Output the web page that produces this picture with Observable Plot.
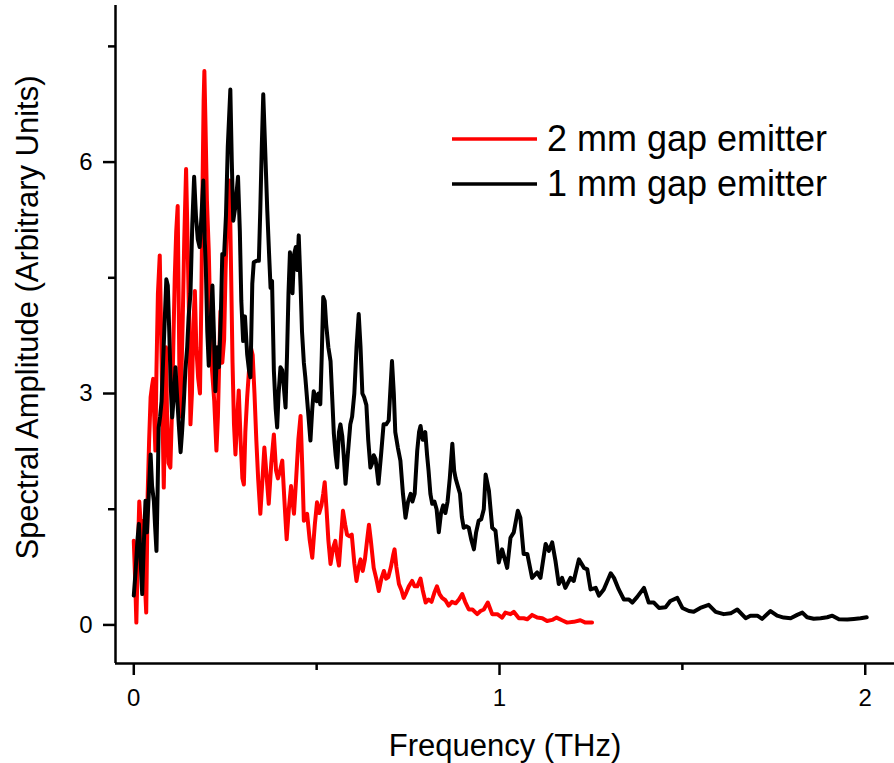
<!DOCTYPE html>
<html>
<head>
<meta charset="utf-8">
<script src="https://cdn.jsdelivr.net/npm/d3@7"></script>
<script src="https://cdn.jsdelivr.net/npm/@observablehq/plot@0.6"></script>
<style>
  html, body { margin: 0; padding: 0; background: #fff; }
  #wrap { position: relative; width: 894px; height: 763px; }
  #wrap svg text { font-family: "Liberation Sans", Arial, sans-serif; }
  g[aria-label="x-axis tick label"], g[aria-label="y-axis tick label"] { font-size: 24px; }
  g[aria-label="x-axis label"] { font-size: 31px; }
  g[aria-label="y-axis label"] { font-size: 31px; translate: 0 -17px; }
  #legend { position: absolute; left: 0; top: 0; pointer-events: none; }
</style>
</head>
<body>
<div id="wrap"></div>
<script>
// ---------- data ----------
const seriesNames = ["2 mm gap emitter", "1 mm gap emitter"];
const seriesColors = ["#ff0000", "#000000"];

const redFreq = [0.000,0.004,0.007,0.011,0.015,0.019,0.023,0.028,0.034,0.038,0.042,0.046,0.050,0.053,0.056,0.059,0.062,0.066,0.071,0.074,0.078,0.082,0.085,0.088,0.091,0.095,0.100,0.104,0.108,0.112,0.116,0.120,0.123,0.126,0.130,0.134,0.138,0.143,0.147,0.151,0.155,0.159,0.163,0.167,0.171,0.176,0.181,0.185,0.188,0.191,0.193,0.196,0.200,0.205,0.209,0.214,0.220,0.226,0.230,0.234,0.237,0.242,0.247,0.251,0.256,0.262,0.266,0.270,0.274,0.278,0.283,0.287,0.292,0.297,0.301,0.305,0.310,0.315,0.320,0.325,0.330,0.335,0.340,0.346,0.352,0.357,0.362,0.369,0.376,0.383,0.389,0.394,0.400,0.406,0.412,0.418,0.424,0.430,0.434,0.438,0.444,0.450,0.456,0.461,0.465,0.470,0.474,0.481,0.488,0.495,0.501,0.507,0.513,0.518,0.522,0.527,0.532,0.538,0.545,0.551,0.556,0.561,0.566,0.572,0.578,0.583,0.590,0.596,0.603,0.609,0.615,0.620,0.626,0.632,0.638,0.643,0.648,0.656,0.663,0.670,0.677,0.684,0.690,0.696,0.703,0.709,0.713,0.718,0.725,0.732,0.738,0.745,0.752,0.761,0.768,0.775,0.784,0.790,0.798,0.806,0.814,0.822,0.829,0.836,0.843,0.852,0.861,0.870,0.880,0.889,0.898,0.906,0.916,0.926,0.939,0.948,0.957,0.968,0.980,0.994,1.007,1.016,1.030,1.039,1.053,1.066,1.076,1.089,1.103,1.117,1.130,1.144,1.156,1.171,1.185,1.203,1.221,1.235,1.253];
const redAmp = [1.09,0.55,0.03,0.9,1.6,1.3,1.35,0.8,0.16,1.7,2.4,2.95,3.1,3.19,2.7,2.26,3.3,4.3,4.79,4.0,2.9,1.78,2.6,3.6,2.7,2.1,2.04,2.7,3.6,4.5,5.1,5.43,4.1,2.7,3.2,4.0,5.0,5.91,5.0,4.0,2.6,3.0,3.9,4.33,3.6,3.2,3.0,4.3,5.7,6.8,7.18,6.5,5.5,4.85,4.0,3.3,2.9,2.26,2.7,3.5,4.07,3.4,3.7,4.6,5.4,5.76,4.6,3.4,2.6,2.21,2.7,3.04,2.4,1.9,1.82,2.5,2.95,3.3,3.6,3.5,3.0,2.4,1.9,1.44,1.9,2.3,2.0,1.57,2.1,2.47,2.0,1.9,2.0,2.13,1.6,1.11,1.5,1.8,1.6,1.44,1.9,2.4,2.71,2.0,1.35,1.4,1.44,1.1,0.87,1.3,1.59,1.45,1.55,1.7,1.85,1.5,1.1,0.79,1.0,1.09,0.9,0.77,1.1,1.48,1.3,1.17,1.15,1.17,0.8,0.57,0.75,0.85,0.7,0.85,1.1,1.3,1.1,0.74,0.6,0.44,0.6,0.7,0.6,0.62,0.75,0.9,0.98,0.75,0.53,0.45,0.35,0.42,0.5,0.57,0.5,0.5,0.6,0.45,0.29,0.33,0.3,0.42,0.5,0.4,0.35,0.32,0.25,0.3,0.28,0.33,0.4,0.3,0.2,0.2,0.14,0.18,0.2,0.29,0.14,0.14,0.095,0.16,0.14,0.17,0.087,0.087,0.074,0.13,0.095,0.087,0.05,0.065,0.095,0.06,0.03,0.04,0.06,0.03,0.03];

const blackFreq = [0.000,0.005,0.010,0.014,0.018,0.023,0.027,0.032,0.036,0.040,0.046,0.050,0.055,0.058,0.062,0.065,0.068,0.072,0.076,0.080,0.085,0.089,0.093,0.097,0.101,0.105,0.110,0.114,0.118,0.123,0.128,0.132,0.137,0.141,0.146,0.150,0.155,0.160,0.165,0.170,0.175,0.180,0.185,0.190,0.194,0.197,0.201,0.205,0.210,0.215,0.219,0.223,0.228,0.233,0.238,0.242,0.247,0.252,0.257,0.264,0.268,0.272,0.277,0.281,0.285,0.290,0.294,0.299,0.304,0.310,0.315,0.319,0.324,0.328,0.336,0.342,0.346,0.350,0.354,0.359,0.365,0.370,0.374,0.378,0.383,0.388,0.392,0.396,0.401,0.406,0.410,0.415,0.419,0.423,0.427,0.431,0.434,0.438,0.443,0.447,0.451,0.456,0.460,0.465,0.469,0.476,0.483,0.488,0.492,0.500,0.505,0.510,0.514,0.518,0.522,0.526,0.532,0.538,0.543,0.547,0.552,0.556,0.561,0.565,0.570,0.574,0.579,0.585,0.592,0.597,0.603,0.609,0.615,0.620,0.625,0.630,0.636,0.641,0.647,0.652,0.656,0.661,0.665,0.669,0.676,0.683,0.690,0.697,0.701,0.706,0.711,0.715,0.722,0.729,0.736,0.743,0.750,0.757,0.762,0.768,0.775,0.780,0.784,0.790,0.797,0.802,0.806,0.811,0.816,0.822,0.828,0.834,0.840,0.846,0.852,0.858,0.864,0.871,0.876,0.880,0.886,0.892,0.897,0.902,0.909,0.916,0.923,0.930,0.936,0.943,0.950,0.957,0.962,0.971,0.980,0.989,0.998,1.007,1.021,1.030,1.039,1.050,1.057,1.066,1.076,1.089,1.103,1.112,1.126,1.135,1.144,1.153,1.162,1.171,1.180,1.194,1.203,1.217,1.231,1.240,1.249,1.263,1.272,1.285,1.304,1.313,1.326,1.340,1.354,1.363,1.376,1.395,1.408,1.422,1.436,1.454,1.467,1.486,1.500,1.518,1.531,1.549,1.572,1.591,1.613,1.632,1.650,1.673,1.686,1.705,1.718,1.741,1.759,1.777,1.796,1.814,1.828,1.841,1.859,1.878,1.896,1.910,1.928,1.951,1.969,1.987,2.004];
const blackAmp = [0.38,0.7,1.1,1.31,0.9,0.4,1.0,1.61,1.2,1.6,2.21,1.8,1.6,1.3,0.96,1.7,2.56,2.7,2.9,3.4,4.0,4.48,4.4,3.8,3.1,2.69,3.0,3.34,3.0,2.6,2.24,2.5,2.91,3.3,3.6,4.0,4.3,5.2,5.81,5.3,5.0,4.9,5.3,5.76,5.0,4.63,3.8,3.36,3.9,4.4,3.8,3.03,3.6,3.34,4.0,4.81,4.8,5.3,6.2,6.94,6.0,5.24,5.4,5.6,5.81,5.1,4.2,3.68,4.0,3.51,3.3,3.21,4.42,4.7,4.72,4.72,5.4,6.2,6.88,6.2,5.37,4.8,4.37,4.46,3.3,2.8,2.56,3.0,3.34,3.3,3.1,2.82,3.5,4.3,4.83,4.5,4.3,4.8,4.9,4.6,5.05,4.4,3.8,3.4,3.21,2.8,2.39,2.8,3.03,2.9,3.0,2.86,3.5,4.25,4.2,3.9,3.6,3.42,2.9,2.48,2.2,2.04,2.5,2.6,2.45,2.2,1.83,2.2,2.6,2.7,3.0,3.6,4.03,3.6,3.0,2.95,2.85,2.4,2.04,2.1,2.2,2.15,2.0,1.83,2.2,2.6,2.6,2.65,3.0,3.42,3.0,2.5,2.3,2.13,1.7,1.39,1.6,1.7,1.6,1.7,2.26,2.5,2.58,2.4,2.5,2.2,2.0,1.7,1.57,1.6,1.5,1.2,1.45,1.55,1.45,1.6,1.9,2.35,2.0,1.9,1.8,1.7,1.4,1.26,1.28,1.26,1.1,0.98,1.2,1.35,1.37,1.5,1.95,1.74,1.26,1.22,0.81,0.98,0.74,1.13,1.2,1.48,1.39,0.92,0.92,0.61,0.68,0.61,1.05,0.96,1.07,0.83,0.53,0.61,0.48,0.61,0.57,0.85,0.74,0.72,0.46,0.48,0.38,0.46,0.67,0.61,0.46,0.33,0.33,0.29,0.36,0.48,0.29,0.29,0.22,0.23,0.31,0.35,0.22,0.18,0.17,0.22,0.26,0.17,0.14,0.15,0.2,0.087,0.12,0.12,0.078,0.18,0.12,0.095,0.087,0.13,0.16,0.1,0.08,0.087,0.1,0.12,0.074,0.07,0.078,0.087,0.1];

const xDomain = [-0.05, 2.08];
const yDomain = [-0.5, 8.03];
const xTicks = [0, 1, 2];
const xMinorTicks = [0.5, 1.5];
const yTicks = [0, 3, 6];
const yMinorTicks = [1.5, 4.5, 7.5];

const red = redFreq.map((f, i) => ({freq: f, amp: redAmp[i], series: seriesNames[0]}));
const black = blackFreq.map((f, i) => ({freq: f, amp: blackAmp[i], series: seriesNames[1]}));

const fmt = d3.format("d");

const chart = Plot.plot({
  width: 894,
  height: 763,
  marginTop: 5,
  marginBottom: 100,
  marginLeft: 115,
  marginRight: 0,
  x: {domain: xDomain},
  y: {domain: yDomain},
  style: {fontFamily: '"Liberation Sans", Arial, sans-serif', fontSize: "24px", color: "#000", background: "#fff", overflow: "visible"},
  marks: [
    Plot.ruleX([xDomain[0]], {stroke: "#000", strokeWidth: 2.5}),
    Plot.ruleY([yDomain[0]], {stroke: "#000", strokeWidth: 2.5}),
    Plot.axisX(xTicks, {tickSize: 12, tickPadding: 13, strokeWidth: 2.5, fontSize: 24, tickFormat: fmt, label: "Frequency (THz)", labelAnchor: "center", labelOffset: 92, labelArrow: "none"}),
    Plot.axisX(xMinorTicks, {tickSize: 7, strokeWidth: 2.5, tickFormat: () => "", label: null}),
    Plot.axisY(yTicks, {tickSize: 12, tickPadding: 11, strokeWidth: 2.5, fontSize: 24, tickFormat: fmt, label: "Spectral Amplitude (Arbitrary Units)", labelAnchor: "center", labelOffset: 100, labelArrow: "none"}),
    Plot.axisY(yMinorTicks, {tickSize: 7, strokeWidth: 2.5, tickFormat: () => "", label: null}),
    Plot.line(red, {x: "freq", y: "amp", stroke: seriesColors[0], strokeWidth: 4, strokeLinejoin: "round"}),
    Plot.line(black, {x: "freq", y: "amp", stroke: seriesColors[1], strokeWidth: 4, strokeLinejoin: "round"})
  ]
});

const wrap = document.getElementById("wrap");
wrap.appendChild(chart);

// legend overlay
const leg = d3.select(wrap).append("svg")
  .attr("id", "legend")
  .attr("width", 894)
  .attr("height", 763);
const items = leg.selectAll("g").data(seriesNames).join("g")
  .attr("transform", (d, i) => `translate(452, ${139 + i * 45})`);
items.append("line")
  .attr("x1", 0).attr("x2", 85).attr("y1", 0).attr("y2", 0)
  .attr("stroke", (d, i) => seriesColors[i])
  .attr("stroke-width", 3.5);
items.append("text")
  .attr("x", 95).attr("y", 12)
  .attr("font-size", 36)
  .attr("fill", "#000")
  .text(d => d);
</script>
</body>
</html>
